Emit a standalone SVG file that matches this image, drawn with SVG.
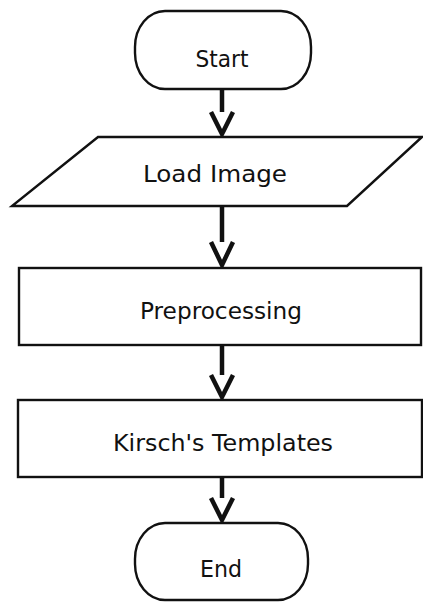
<svg xmlns="http://www.w3.org/2000/svg" width="423" height="602" viewBox="0 0 423 602">
<style>
.shape{fill:#fff;stroke:#111;stroke-width:2.4}
.lbl{font-family:"DejaVu Sans","Open Sans",sans-serif;font-size:23.5px;fill:#111;text-anchor:middle}
.conn{stroke:#111;stroke-width:4.5;fill:none}
.head{stroke:#111;stroke-width:4.5;fill:none;stroke-linejoin:miter;stroke-linecap:butt}
</style>
<rect width="423" height="602" fill="#fff"/>
<g id="connectors">
<line class="conn" x1="222" y1="90" x2="222" y2="112"/>
<path class="head" d="M211,112 L222,134 L233,112"/>
<line class="conn" x1="222" y1="207" x2="222" y2="242"/>
<path class="head" d="M211,242 L222,265 L233,242"/>
<line class="conn" x1="222" y1="346" x2="222" y2="375"/>
<path class="head" d="M211,375 L222,397 L233,375"/>
<line class="conn" x1="222" y1="478" x2="222" y2="498"/>
<path class="head" d="M211,498 L222,520 L233,498"/>
</g>
<g id="start">
<rect class="shape" x="135" y="11" width="176" height="78" rx="30" ry="36"/>
<text class="lbl" x="222" y="67" textLength="53" lengthAdjust="spacingAndGlyphs">Start</text>
</g>
<g id="load">
<polygon class="shape" points="98,137 422,137 347,206 12,206"/>
<text class="lbl" x="215" y="182" textLength="144" lengthAdjust="spacingAndGlyphs">Load Image</text>
</g>
<g id="preprocessing">
<rect class="shape" x="19" y="268" width="402" height="77"/>
<text class="lbl" x="221" y="319" textLength="162" lengthAdjust="spacingAndGlyphs">Preprocessing</text>
</g>
<g id="kirsch">
<rect class="shape" x="18" y="400" width="404" height="77"/>
<text class="lbl" x="223" y="451" textLength="220" lengthAdjust="spacingAndGlyphs">Kirsch's Templates</text>
</g>
<g id="end">
<rect class="shape" x="135" y="523" width="173" height="77" rx="30" ry="36"/>
<text class="lbl" x="221" y="577" textLength="42" lengthAdjust="spacingAndGlyphs">End</text>
</g>
</svg>
